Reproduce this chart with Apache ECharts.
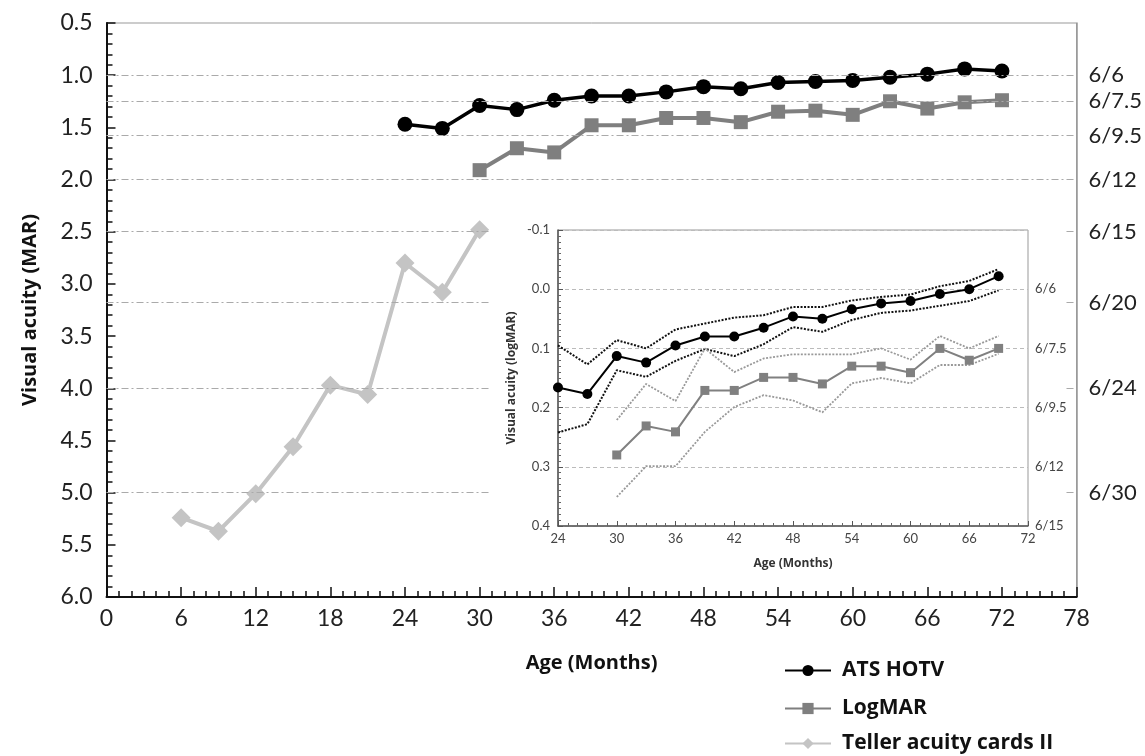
<!DOCTYPE html>
<html>
<head>
<meta charset="utf-8">
<script src="https://cdn.jsdelivr.net/npm/echarts@6.0.0/dist/echarts.min.js"></script>
<style>
  html, body { margin: 0; padding: 0; background: #fff; }
  #chart { width: 1145px; height: 756px; }
</style>
</head>
<body>
<div id="chart"></div>
<script>
// main chart (MAR)
const atsMonths = [24, 27, 30, 33, 36, 39, 42, 45, 48, 51, 54, 57, 60, 63, 66, 69, 72]
const atsMar = [1.47, 1.51, 1.29, 1.33, 1.24, 1.20, 1.20, 1.16, 1.11, 1.13, 1.07, 1.06, 1.05, 1.02, 0.99, 0.94, 0.96]
const logmarMonths = [30, 33, 36, 39, 42, 45, 48, 51, 54, 57, 60, 63, 66, 69, 72]
const logmarMar = [1.91, 1.70, 1.74, 1.48, 1.48, 1.41, 1.41, 1.45, 1.35, 1.34, 1.38, 1.25, 1.32, 1.26, 1.24]
const tellerMonths = [6, 9, 12, 15, 18, 21, 24, 27, 30]
const tellerMar = [5.24, 5.37, 5.01, 4.56, 3.97, 4.06, 2.80, 3.08, 2.48]

// snellen reference lines on the right
const snellenLabels = ['6/6', '6/7.5', '6/9.5', '6/12', '6/15', '6/20', '6/24', '6/30']
const snellenMar = [1.0, 1.25, 1.58, 2.0, 2.5, 3.18, 4.0, 5.0]

// inset (logMAR)
const insetAtsMonths = [24, 27, 30, 33, 36, 39, 42, 45, 48, 51, 54, 57, 60, 63, 66, 69]
const insetAts = [0.166, 0.177, 0.113, 0.124, 0.095, 0.080, 0.080, 0.065, 0.046, 0.050, 0.034, 0.024, 0.020, 0.008, 0.000, -0.022]
const insetAtsUpper = [0.095, 0.127, 0.086, 0.100, 0.068, 0.058, 0.048, 0.044, 0.030, 0.030, 0.019, 0.013, 0.009, -0.005, -0.014, -0.034]
const insetAtsLower = [0.242, 0.228, 0.137, 0.148, 0.121, 0.101, 0.113, 0.093, 0.064, 0.072, 0.052, 0.040, 0.036, 0.028, 0.020, 0.002]
const insetLogMonths = [30, 33, 36, 39, 42, 45, 48, 51, 54, 57, 60, 63, 66, 69]
const insetLog = [0.280, 0.231, 0.241, 0.171, 0.171, 0.149, 0.149, 0.160, 0.130, 0.130, 0.141, 0.100, 0.120, 0.100]
const insetLogUpper = [0.221, 0.160, 0.189, 0.100, 0.140, 0.117, 0.110, 0.110, 0.110, 0.100, 0.119, 0.079, 0.100, 0.079]
const insetLogLower = [0.351, 0.299, 0.299, 0.241, 0.199, 0.179, 0.188, 0.208, 0.159, 0.150, 0.159, 0.128, 0.128, 0.109]
const insetSnellen = ['', '6/6', '6/7.5', '6/9.5', '6/12', '6/15']

const legendNames = ['ATS HOTV', 'LogMAR', 'Teller acuity cards II']

const pairs = (xs, ys) => xs.map((x, i) => [x, ys[i]])

const tickFont = 'Lato'
const boldFont = 'Open Sans'

const chart = echarts.init(document.getElementById('chart'))

// one legend box per entry, stacked under the x axis
const legendTops = [660, 698, 733]
const legends = legendNames.map((name, i) => ({
  data: [name],
  left: 784,
  top: legendTops[i],
  padding: 0,
  itemWidth: 46,
  itemHeight: 14,
  textStyle: { fontFamily: boldFont, fontWeight: 'bold', fontSize: 21, color: '#111', padding: [0, 0, 0, 6] }
}))

chart.setOption({
  animation: false,
  graphic: [{
    type: 'rect',
    z: 10,
    left: 490,
    top: 222,
    shape: { width: 574, height: 356 },
    style: { fill: '#fff' }
  }],
  legend: legends,
  grid: [
    { left: 106.5, right: 67, top: 23, bottom: 159, show: true, borderColor: '#999', borderWidth: 1 },
    { left: 558, top: 230, width: 470, height: 296, show: true, borderColor: '#999', borderWidth: 1, z: 11 }
  ],
  xAxis: [
    {
      type: 'value', gridIndex: 0, min: 0, max: 78, interval: 6,
      name: 'Age (Months)', nameLocation: 'middle', nameGap: 56,
      nameTextStyle: { fontFamily: boldFont, fontWeight: 'bold', fontSize: 20, color: '#111' },
      axisLine: { onZero: false, lineStyle: { color: '#111', width: 2 } },
      axisTick: { inside: true, length: 10, lineStyle: { color: '#111', width: 1.5 } },
      minorTick: { show: true, splitNumber: 6, length: 6, lineStyle: { color: '#111', width: 1.5 } },
      axisLabel: { fontFamily: tickFont, fontSize: 23, color: '#222', margin: 10 },
      splitLine: { show: false }
    },
    {
      type: 'value', gridIndex: 1, min: 24, max: 72, interval: 6, z: 11,
      name: 'Age (Months)', nameLocation: 'middle', nameGap: 32,
      nameTextStyle: { fontFamily: boldFont, fontWeight: 'bold', fontSize: 12, color: '#333' },
      axisLine: { onZero: false, lineStyle: { color: '#555', width: 1.5 } },
      axisTick: { inside: true, length: 5, lineStyle: { color: '#555' } },
      minorTick: { show: true, splitNumber: 6, length: 3, lineStyle: { color: '#666' } },
      axisLabel: { fontFamily: tickFont, fontSize: 13, color: '#444', margin: 6 },
      splitLine: { show: false }
    }
  ],
  yAxis: [
    {
      type: 'value', gridIndex: 0, min: 0.5, max: 6, interval: 0.5, inverse: true,
      name: 'Visual acuity (MAR)', nameLocation: 'middle', nameGap: 66,
      nameTextStyle: { fontFamily: boldFont, fontWeight: 'bold', fontSize: 20, color: '#111' },
      axisLine: { show: true, onZero: false, lineStyle: { color: '#111', width: 2 } },
      axisTick: { inside: true, length: 9, lineStyle: { color: '#111', width: 1.5 } },
      minorTick: { show: true, splitNumber: 5, length: 6, lineStyle: { color: '#111', width: 1.5 } },
      axisLabel: { fontFamily: tickFont, fontSize: 23, color: '#222', margin: 14, formatter: v => v.toFixed(1) },
      splitLine: { show: false }
    },
    {
      type: 'value', gridIndex: 0, min: 0.5, max: 6, inverse: true, position: 'right',
      axisLine: { show: true, onZero: false, lineStyle: { color: '#999', width: 1.5 } },
      axisTick: { show: false },
      axisLabel: {
        customValues: snellenMar,
        fontFamily: tickFont, fontSize: 22, color: '#222', margin: 12,
        formatter: v => snellenLabels[snellenMar.indexOf(v)] || ''
      },
      splitLine: { show: false }
    },
    {
      type: 'value', gridIndex: 1, min: -0.1, max: 0.4, interval: 0.1, inverse: true, z: 11,
      name: 'Visual acuity (logMAR)', nameLocation: 'middle', nameGap: 40,
      nameTextStyle: { fontFamily: boldFont, fontWeight: 'bold', fontSize: 12, color: '#333' },
      axisLine: { show: true, onZero: false, lineStyle: { color: '#555', width: 1.5 } },
      axisTick: { inside: true, length: 5, lineStyle: { color: '#555' } },
      minorTick: { show: true, splitNumber: 10, length: 3, lineStyle: { color: '#666' } },
      axisLabel: { fontFamily: tickFont, fontSize: 13, color: '#444', margin: 8, formatter: v => v.toFixed(1) },
      splitLine: { show: true, lineStyle: { color: '#bbb', type: [4, 3], width: 1 } }
    },
    {
      type: 'value', gridIndex: 1, min: -0.1, max: 0.4, interval: 0.1, inverse: true, position: 'right', z: 11,
      axisLine: { show: false },
      axisTick: { show: false },
      axisLabel: {
        fontFamily: tickFont, fontSize: 13, color: '#444', margin: 7,
        formatter: v => insetSnellen[Math.round((v + 0.1) * 10)] || ''
      },
      splitLine: { show: false }
    }
  ],
  series: [
    {
      name: 'ATS HOTV', type: 'line', xAxisIndex: 0, yAxisIndex: 0,
      data: pairs(atsMonths, atsMar),
      symbol: 'circle', symbolSize: 15,
      itemStyle: { color: '#000' },
      lineStyle: { color: '#000', width: 3.5 },
      markLine: {
        silent: true,
        symbol: 'none',
        label: { show: false },
        lineStyle: { color: '#aaa', width: 1.2, type: [7, 3, 2, 3] },
        data: snellenMar.map(v => ({ yAxis: v }))
      }
    },
    {
      name: 'LogMAR', type: 'line', xAxisIndex: 0, yAxisIndex: 0,
      data: pairs(logmarMonths, logmarMar),
      symbol: 'rect', symbolSize: 14,
      itemStyle: { color: '#7f7f7f' },
      lineStyle: { color: '#7f7f7f', width: 4 }
    },
    {
      name: 'Teller acuity cards II', type: 'line', xAxisIndex: 0, yAxisIndex: 0,
      data: pairs(tellerMonths, tellerMar),
      symbol: 'diamond', symbolSize: 19,
      itemStyle: { color: '#c4c4c4' },
      lineStyle: { color: '#c4c4c4', width: 4 }
    },
    // inset
    {
      name: 'inset ATS upper', type: 'line', xAxisIndex: 1, yAxisIndex: 2, z: 12,
      data: pairs(insetAtsMonths, insetAtsUpper), symbol: 'none',
      lineStyle: { color: '#111', width: 2, type: [2, 1.5] }
    },
    {
      name: 'inset ATS lower', type: 'line', xAxisIndex: 1, yAxisIndex: 2, z: 12,
      data: pairs(insetAtsMonths, insetAtsLower), symbol: 'none',
      lineStyle: { color: '#111', width: 2, type: [2, 1.5] }
    },
    {
      name: 'inset LogMAR upper', type: 'line', xAxisIndex: 1, yAxisIndex: 2, z: 12,
      data: pairs(insetLogMonths, insetLogUpper), symbol: 'none',
      lineStyle: { color: '#999', width: 1.8, type: [2, 1.5] }
    },
    {
      name: 'inset LogMAR lower', type: 'line', xAxisIndex: 1, yAxisIndex: 2, z: 12,
      data: pairs(insetLogMonths, insetLogLower), symbol: 'none',
      lineStyle: { color: '#999', width: 1.8, type: [2, 1.5] }
    },
    {
      name: 'inset ATS', type: 'line', xAxisIndex: 1, yAxisIndex: 2, z: 13,
      data: pairs(insetAtsMonths, insetAts),
      symbol: 'circle', symbolSize: 10,
      itemStyle: { color: '#000' },
      lineStyle: { color: '#000', width: 2 }
    },
    {
      name: 'inset LogMAR', type: 'line', xAxisIndex: 1, yAxisIndex: 2, z: 13,
      data: pairs(insetLogMonths, insetLog),
      symbol: 'rect', symbolSize: 9,
      itemStyle: { color: '#808080' },
      lineStyle: { color: '#808080', width: 2 }
    }
  ]
})
</script>
</body>
</html>
